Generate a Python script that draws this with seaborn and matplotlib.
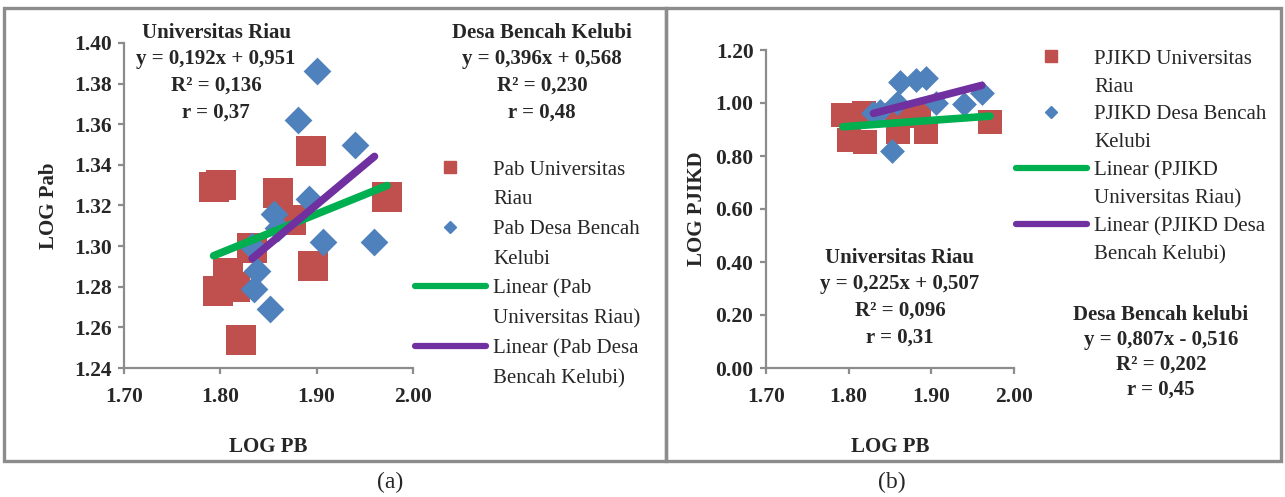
import numpy as np
import matplotlib
matplotlib.use("Agg")
import matplotlib.pyplot as plt
import seaborn as sns
from matplotlib.lines import Line2D
from matplotlib.patches import Rectangle

# ---- data ----
# panel (a): LOG PB vs LOG Pab
pab_ur_x = [1.793, 1.801, 1.798, 1.808, 1.815, 1.821, 1.833, 1.860, 1.873, 1.894, 1.896, 1.973]
pab_ur_y = [1.329, 1.330, 1.278, 1.287, 1.280, 1.254, 1.299, 1.326, 1.313, 1.347, 1.290, 1.324]
pab_dbk_x = [1.900, 1.881, 1.940, 1.892, 1.856, 1.860, 1.907, 1.960, 1.833, 1.838, 1.835, 1.852]
pab_dbk_y = [1.386, 1.362, 1.350, 1.323, 1.316, 1.309, 1.302, 1.302, 1.300, 1.288, 1.279, 1.269]

# panel (b): LOG PB vs LOG PJIKD
pj_ur_x = [1.793, 1.818, 1.801, 1.820, 1.858, 1.860, 1.885, 1.894, 1.971]
pj_ur_y = [0.955, 0.961, 0.861, 0.854, 0.955, 0.892, 0.950, 0.892, 0.930]
pj_dbk_x = [1.830, 1.862, 1.882, 1.894, 1.859, 1.906, 1.940, 1.961, 1.852, 1.838]
pj_dbk_y = [0.961, 1.080, 1.087, 1.093, 1.000, 1.000, 0.995, 1.037, 0.817, 0.970]

# trend lines as printed on the chart (slope, intercept)
fit_a_ur = (0.192, 0.951)
fit_a_dbk = (0.396, 0.568)
fit_b_ur = (0.225, 0.507)
fit_b_dbk = (0.807, -0.516)

x_ticks = [1.70, 1.80, 1.90, 2.00]
y_ticks_a = [1.24, 1.26, 1.28, 1.30, 1.32, 1.34, 1.36, 1.38, 1.40]
y_ticks_b = [0.00, 0.20, 0.40, 0.60, 0.80, 1.00, 1.20]

RED = "#C0504D"
BLUE = "#4F81BD"
GREEN = "#00B050"
PURPLE = "#7030A0"
GRAY = "#8C8C8C"

sns.set_theme(style="white")
plt.rcParams["font.family"] = ["Liberation Serif", "DejaVu Serif"]
plt.rcParams["axes.unicode_minus"] = False

W, H = 1285, 497
fig = plt.figure(figsize=(W / 100, H / 100), dpi=100)


def fx(px):
    return px / W


def fy(py):
    return 1 - py / H


# panel frames
for x0, x1 in [(4, 666), (666, 1281)]:
    fig.patches.append(Rectangle((fx(x0), fy(461)), fx(x1 - x0), fy(8) - fy(461),
                                 transform=fig.transFigure, fill=False,
                                 edgecolor=GRAY, linewidth=2.4, zorder=0))


def draw_panel(ax, ur_x, ur_y, dbk_x, dbk_y, fit_ur, fit_dbk, yticks, ylabel, sq, dm):
    sns.scatterplot(x=ur_x, y=ur_y, ax=ax, marker="s", s=sq, color=RED,
                    linewidth=0, zorder=2)
    sns.scatterplot(x=dbk_x, y=dbk_y, ax=ax, marker="D", s=dm, color=BLUE,
                    linewidth=0, zorder=3)
    for xs, (m, c), col, z in [(ur_x, fit_ur, GREEN, 4), (dbk_x, fit_dbk, PURPLE, 5)]:
        xx = np.array([min(xs), max(xs)])
        ax.plot(xx, m * xx + c, color=col, lw=5.5, solid_capstyle="round", zorder=z)
    ax.set_xlim(x_ticks[0], x_ticks[-1])
    ax.set_ylim(yticks[0], yticks[-1])
    ax.set_xticks(x_ticks)
    ax.set_yticks(yticks)
    ax.set_xticklabels([f"{v:.2f}" for v in x_ticks], fontsize=15.5, fontweight="bold")
    ax.set_yticklabels([f"{v:.2f}" for v in yticks], fontsize=15.5, fontweight="bold")
    for s in ["top", "right"]:
        ax.spines[s].set_visible(False)
    for s in ["left", "bottom"]:
        ax.spines[s].set_color(GRAY)
        ax.spines[s].set_linewidth(1.6)
    ax.tick_params(axis="both", direction="out", length=4, width=1.6, color=GRAY)
    ax.tick_params(axis="x", pad=10, bottom=True)
    ax.tick_params(axis="y", pad=5, left=True)
    ax.set_xlabel("LOG PB", fontsize=15, fontweight="bold")
    ax.set_ylabel(ylabel, fontsize=15, fontweight="bold")
    ax.set_facecolor("white")


ax1 = fig.add_axes([fx(124), fy(368), fx(413 - 124), fy(43) - fy(368)])
draw_panel(ax1, pab_ur_x, pab_ur_y, pab_dbk_x, pab_dbk_y, fit_a_ur, fit_a_dbk,
           y_ticks_a, "LOG Pab", 440, 200)
ax1.xaxis.set_label_coords((268 - 124) / (413 - 124), -(437 - 368) / (368 - 43))
ax1.yaxis.set_label_coords(-(124 - 59) / (413 - 124), 0.5)

ax2 = fig.add_axes([fx(766), fy(368), fx(1014 - 766), fy(50) - fy(368)])
draw_panel(ax2, pj_ur_x, pj_ur_y, pj_dbk_x, pj_dbk_y, fit_b_ur, fit_b_dbk,
           y_ticks_b, "LOG PJIKD", 320, 160)
ax2.xaxis.set_label_coords((890 - 766) / (1014 - 766), -(437 - 368) / (368 - 50))
ax2.yaxis.set_label_coords(-(766 - 707) / (1014 - 766), 0.5)


def legend_for(names, anchor, spacing):
    blank = Line2D([], [], linestyle="none", marker=None)
    handles = [
        Line2D([], [], linestyle="none", marker="s", markersize=9, color=RED), blank,
        Line2D([], [], linestyle="none", marker="D", markersize=6.5, color=BLUE), blank,
        Line2D([], [], color=GREEN, lw=4.5, solid_capstyle="round"), blank,
        Line2D([], [], color=PURPLE, lw=4.5, solid_capstyle="round"), blank,
    ]
    fig.legend(handles, names, loc="upper left", bbox_to_anchor=anchor,
               bbox_transform=fig.transFigure, frameon=False, fontsize=15,
               handlelength=3.4, handletextpad=0.35, labelspacing=spacing,
               borderpad=0, borderaxespad=0)


legend_for(["Pab Universitas", "Riau", "Pab Desa Bencah", "Kelubi",
            "Linear (Pab", "Universitas Riau)", "Linear (Pab Desa", "Bencah Kelubi)"],
           (fx(415), fy(160)), 0.49)
legend_for(["PJIKD Universitas", "Riau", "PJIKD Desa Bencah", "Kelubi",
            "Linear (PJIKD", "Universitas Riau)", "Linear (PJIKD Desa", "Bencah Kelubi)"],
           (fx(1016), fy(49)), 0.40)

# regression annotations
notes = [
    (216, 23, 1.43, "Universitas Riau\ny = 0,192x + 0,951\nR² = 0,136\nr = 0,37"),
    (542, 23, 1.43, "Desa Bencah Kelubi\ny = 0,396x + 0,568\nR² = 0,230\nr = 0,48"),
    (900, 248, 1.43, "Universitas Riau\ny = 0,225x + 0,507\nR² = 0,096\nr = 0,31"),
    (1161, 305, 1.33, "Desa Bencah kelubi\ny = 0,807x - 0,516\nR² = 0,202\nr = 0,45"),
]
for x, y, ls, t in notes:
    fig.text(fx(x), fy(y), t, ha="center", va="top", multialignment="center",
             fontsize=15, fontweight="bold", linespacing=ls)

fig.text(fx(390), fy(482), "(a)", ha="center", va="center", fontsize=17)
fig.text(fx(892), fy(482), "(b)", ha="center", va="center", fontsize=17)

fig.savefig("out.png", dpi=100, facecolor="white")
